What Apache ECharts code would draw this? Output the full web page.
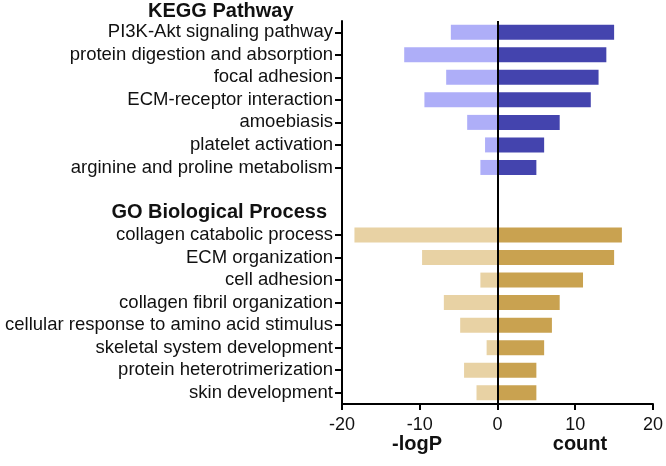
<!DOCTYPE html>
<html>
<head>
<meta charset="utf-8">
<script src="https://cdn.jsdelivr.net/npm/echarts@6/dist/echarts.min.js"></script>
<style>
html,body{margin:0;padding:0;background:#fff;}
#c{width:666px;height:466px;}
</style>
</head>
<body>
<div id="c"></div>
<script>
var keggHeader = 'KEGG Pathway';
var goHeader = 'GO Biological Process';
var keggTerms = ['PI3K-Akt signaling pathway', 'protein digestion and absorption', 'focal adhesion', 'ECM-receptor interaction', 'amoebiasis', 'platelet activation', 'arginine and proline metabolism'];
var goTerms = ['collagen catabolic process', 'ECM organization', 'cell adhesion', 'collagen fibril organization', 'cellular response to amino acid stimulus', 'skeletal system development', 'protein heterotrimerization', 'skin development'];
var keggLogP = [6.0, 12.0, 6.6, 9.4, 3.9, 1.6, 2.2];
var keggCount = [15, 14, 13, 12, 8, 6, 5];
var goLogP = [18.4, 9.7, 2.2, 6.9, 4.8, 1.4, 4.3, 2.7];
var goCount = [16, 15, 11, 8, 7, 6, 5, 5];
var xTicks = [-20, -10, 0, 10, 20];
var leftAxisTitle = '-logP';
var rightAxisTitle = 'count';

var categories = keggTerms.concat(['', goHeader]).concat(goTerms);
function pad(n){ var a=[]; for(var i=0;i<n;i++) a.push('-'); return a; }
var nGoBlock = 2 + goTerms.length;
var keggNegData = keggLogP.map(function(v){return -v;}).concat(pad(nGoBlock));
var keggPosData = keggCount.slice().concat(pad(nGoBlock));
var goNegData = pad(keggTerms.length + 2).concat(goLogP.map(function(v){return -v;}));
var goPosData = pad(keggTerms.length + 2).concat(goCount);

var FONT = 'Liberation Sans, Arial, Helvetica, sans-serif';
var chart = echarts.init(document.getElementById('c'));
chart.setOption({
  animation: false,
  textStyle: {fontFamily: FONT},
  grid: {left: 342, right: 11, top: 21, bottom: 62, containLabel: false},
  xAxis: {
    type: 'value', min: xTicks[0], max: xTicks[xTicks.length-1], interval: 10,
    axisLine: {show: true, lineStyle: {color: '#000', width: 2}},
    axisTick: {show: true, length: 6, lineStyle: {color: '#000', width: 2}},
    axisLabel: {fontSize: 18, color: '#111', margin: 12, fontFamily: FONT},
    splitLine: {show: false}
  },
  yAxis: {
    type: 'category', data: categories, inverse: true,
    axisLine: {show: true, onZero: false, lineStyle: {color: '#000', width: 2}},
    axisTick: {show: true, alignWithLabel: true, length: 7, lineStyle: {color: '#000', width: 2},
      interval: function(i, v){ return v !== '' && v !== goHeader; }},
    axisLabel: {interval: 0, fontSize: 18.5, color: '#111', margin: 9, fontFamily: FONT,
      formatter: function(v){ return v === goHeader ? '{h|' + v + '}' : v; },
      rich: {h: {fontSize: 20, fontWeight: 'bold', color: '#111', fontFamily: FONT, padding: [0, 6, 0, 0]}}},
    splitLine: {show: false}
  },
  series: [
    {type: 'bar', name: 'keggNeg', stack: 'all', barWidth: 15, data: keggNegData, itemStyle: {color: '#aeaef8'},
     markLine: {silent: true, symbol: ['none','none'], label: {show: false}, lineStyle: {color: '#000', width: 2, type: 'solid'}, data: [{xAxis: 0}]}},
    {type: 'bar', name: 'keggPos', stack: 'all', barWidth: 15, data: keggPosData, itemStyle: {color: '#4444ae'}},
    {type: 'bar', name: 'goNeg', stack: 'all', barWidth: 15, data: goNegData, itemStyle: {color: '#e8d2a4'}},
    {type: 'bar', name: 'goPos', stack: 'all', barWidth: 15, data: goPosData, itemStyle: {color: '#c9a250'}}
  ],
  graphic: [
    {type: 'text', left: 148, top: 1, style: {text: keggHeader, font: 'bold 20px ' + FONT, fill: '#111'}},
    {type: 'text', x: 417, y: 444, style: {text: leftAxisTitle, font: 'bold 20px ' + FONT, fill: '#111', align: 'center', verticalAlign: 'middle'}},
    {type: 'text', x: 580, y: 444, style: {text: rightAxisTitle, font: 'bold 20px ' + FONT, fill: '#111', align: 'center', verticalAlign: 'middle'}}
  ]
});
</script>
</body>
</html>
